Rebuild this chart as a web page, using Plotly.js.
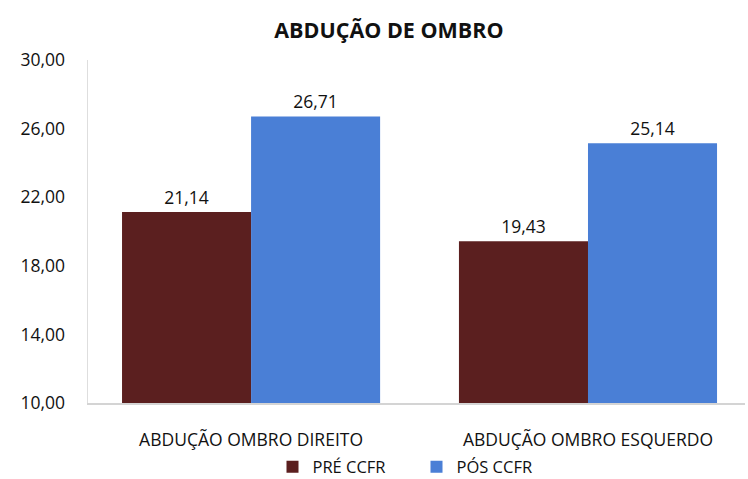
<!DOCTYPE html>
<html><head><meta charset="utf-8">
<script src="https://cdn.plot.ly/plotly-3.0.1.min.js"></script>
<style>body{margin:0;background:#fff}#c{width:748px;height:479px}</style>
</head><body><div id="c"></div>
<script>
const categories = ["ABDUÇÃO OMBRO DIREITO", "ABDUÇÃO OMBRO ESQUERDO"];
const preValues = [21.14, 19.43];
const posValues = [26.71, 25.14];
const seriesNames = ["PRÉ CCFR", "PÓS CCFR"];
const tickVals = [10, 14, 18, 22, 26, 30];

const font = "'Open Sans', 'Noto Sans', sans-serif";
const mk = (y, name, color) => ({
  type: 'bar', x: categories, y: y, name: name,
  marker: {color: color},
  text: y.map(v => v.toFixed(2).replace('.', ',')),
  textposition: 'outside', cliponaxis: false,
  textfont: {family: font, size: 17.5, color: '#111'},
  hoverinfo: 'none'
});
const data = [mk(preValues, seriesNames[0], '#5b1f1f'), mk(posValues, seriesNames[1], '#4a7fd6')];
const layout = {
  width: 748, height: 479,
  margin: {l: 88, r: 3, t: 60, b: 76},
  paper_bgcolor: '#fff', plot_bgcolor: '#fff',
  separators: ',.',
  font: {family: font, color: '#111'},
  title: {text: '<b>ABDUÇÃO DE OMBRO</b>', font: {family: font, size: 21.5, color: '#111'}, x: 0.52, xanchor: 'center', y: 0.937, yanchor: 'middle'},
  barmode: 'group', bargap: 0.234, bargroupgap: 0,
  xaxis: {type: 'category', range: [-0.484, 1.466], showgrid: false, showline: true, linecolor: '#d4d4d4', linewidth: 1.5, ticks: '', ticklabelstandoff: 20, tickfont: {family: font, size: 17.5, color: '#111'}, fixedrange: true, automargin: false},
  yaxis: {range: [10, 30], tickvals: tickVals, tickformat: '.2f', showgrid: false, zeroline: false, showline: true, linecolor: '#dedede', linewidth: 1.5, ticks: '', ticklabelstandoff: 18, tickfont: {family: font, size: 17.5, color: '#111'}, fixedrange: true, automargin: false},
  showlegend: true,
  legend: {orientation: 'h', x: 0.5, xanchor: 'center', yref: 'container', y: 0.025, yanchor: 'middle', font: {family: font, size: 16.5, color: '#111'}, itemwidth: 30, entrywidth: 99, tracegroupgap: 0}
};
Plotly.newPlot('c', data, layout, {displayModeBar: false, staticPlot: true});
</script></body></html>
